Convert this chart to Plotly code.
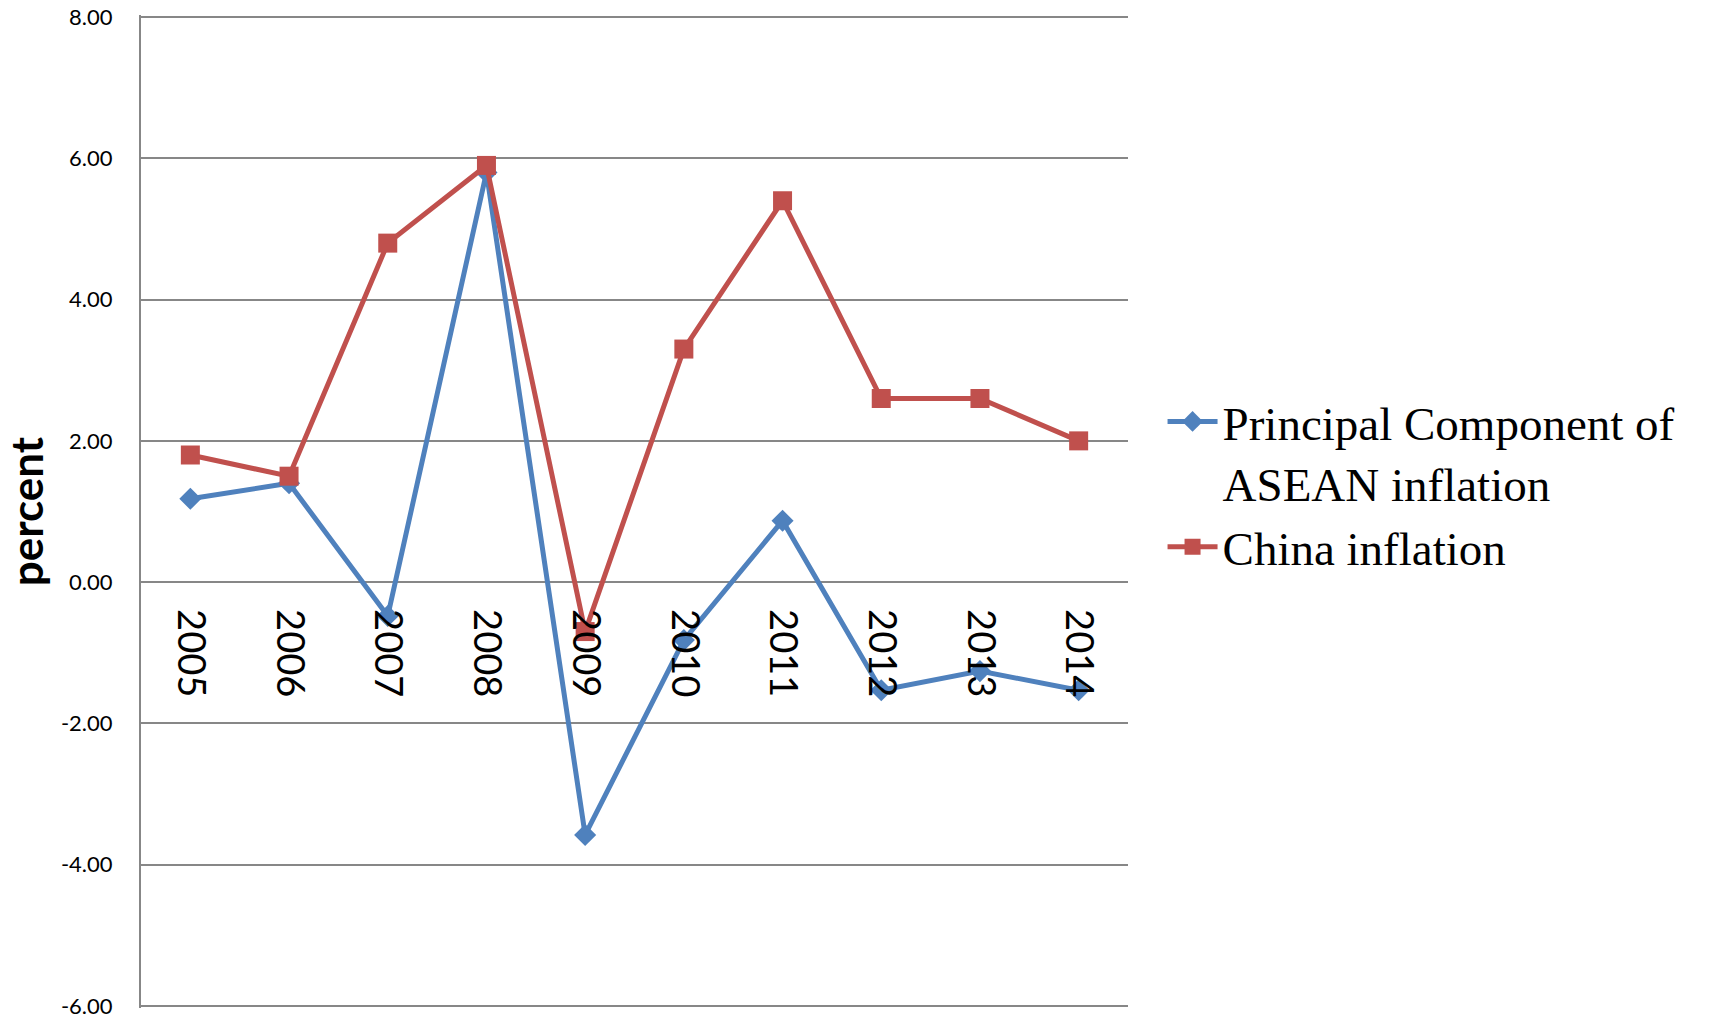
import plotly.graph_objects as go

years = ["2005", "2006", "2007", "2008", "2009", "2010", "2011", "2012", "2013", "2014"]
asean_pc = [1.18, 1.40, -0.48, 5.80, -3.58, -0.82, 0.87, -1.53, -1.26, -1.53]
china_inflation = [1.8, 1.5, 4.8, 5.9, -0.7, 3.3, 5.4, 2.6, 2.6, 2.0]
y_ticks = [-6, -4, -2, 0, 2, 4, 6, 8]
y_tick_text = ["-6.00", "-4.00", "-2.00", "0.00", "2.00", "4.00", "6.00", "8.00"]

BLUE = "#4F81BD"
RED = "#C0504D"
GRID = "#878787"

fig = go.Figure()
fig.add_trace(go.Scatter(
    x=years, y=asean_pc, mode="lines+markers",
    name="Principal Component of<br>ASEAN inflation",
    line=dict(color=BLUE, width=5),
    marker=dict(symbol="diamond", size=17, color=BLUE),
))
fig.add_trace(go.Scatter(
    x=years, y=china_inflation, mode="lines+markers",
    name="China inflation",
    line=dict(color=RED, width=5),
    marker=dict(symbol="square", size=19, color=RED),
))

W, H = 1711, 1020
top_px, bot_px = 17, 1006
pad = 0.03
px_per_unit = (bot_px - top_px) / 14.0
L, R = 141, 1711 - 1128
T = top_px - pad * px_per_unit
B = (H - bot_px) - pad * px_per_unit
y_lo, y_hi = -6 - pad, 8 + pad
y0_frac = (0 - y_lo) / (y_hi - y_lo)

fig.update_layout(
    width=W, height=H,
    margin=dict(l=L, r=R, t=T, b=B),
    paper_bgcolor="white", plot_bgcolor="white",
    showlegend=True,
    legend=dict(
        x=1.035, y=0.628, xanchor="left", yanchor="top",
        font=dict(family="Liberation Serif", size=47, color="black"),
        valign="top", itemwidth=50, tracegroupgap=0,
        bgcolor="rgba(0,0,0,0)",
    ),
    xaxis=dict(
        type="category", range=[-0.5, 9.5],
        anchor="free", position=y0_frac,
        showgrid=False, zeroline=False, showline=False,
        ticks="", tickangle=90,
        ticklabelstandoff=26,
        tickfont=dict(family="Lato", size=38, color="black"),
    ),
    yaxis=dict(
        range=[y_lo, y_hi], tickvals=y_ticks, ticktext=y_tick_text,
        showgrid=True, gridcolor=GRID, gridwidth=2,
        zeroline=False,
        showline=True, linecolor=GRID, linewidth=2,
        ticks="", ticklabelstandoff=22, ticklabeloverflow="allow",
        tickfont=dict(family="Lato", size=22, color="black"),
        title=dict(text="<b>percent</b>", standoff=18,
                   font=dict(family="Lato", size=44, color="black")),
        automargin=False,
    ),
)

fig.write_html("out.html")
